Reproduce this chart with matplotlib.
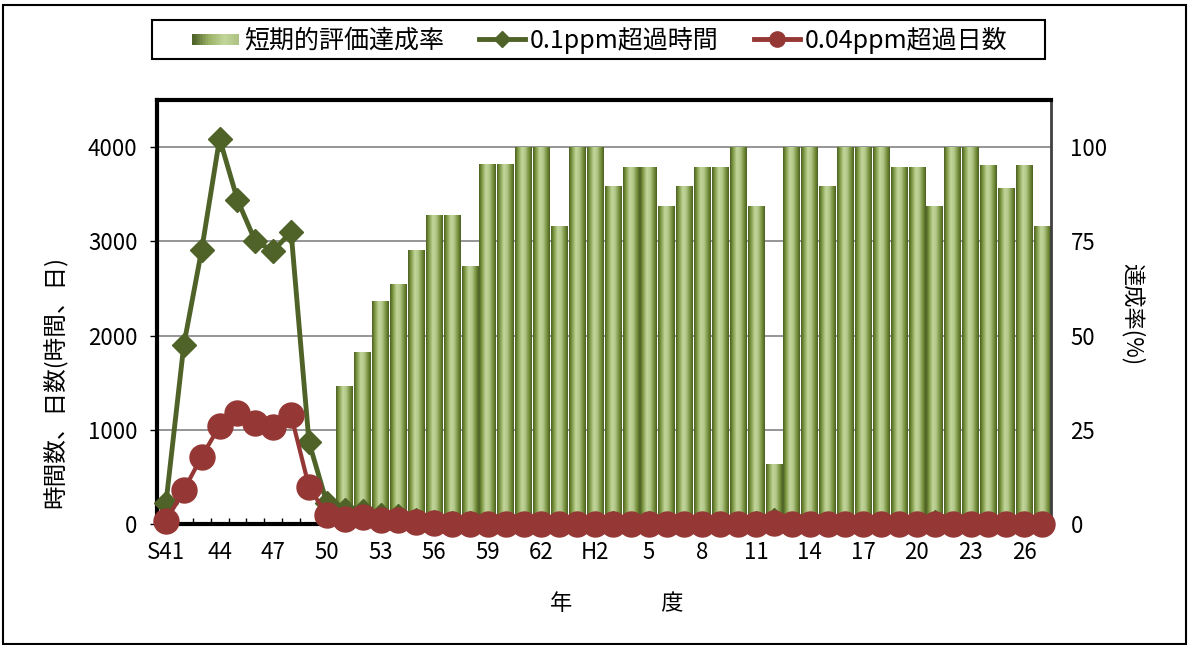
import numpy as np
import matplotlib
matplotlib.use("Agg")
import matplotlib.pyplot as plt
from matplotlib.colors import LinearSegmentedColormap
from matplotlib.patches import Rectangle
from matplotlib.lines import Line2D
from matplotlib.legend_handler import HandlerBase

plt.rcParams['font.family'] = ['Noto Sans CJK JP', 'DejaVu Sans']

# ---------------- data ----------------
years = (['S%d' % y for y in range(41, 64)] + ['H%d' % y for y in range(1, 28)])  # FY S41..H27
tick_labels = ['S41', '44', '47', '50', '53', '56', '59', '62', 'H2', '5', '8',
               '11', '14', '17', '20', '23', '26']

# 0.1ppm exceedance hours (left axis)
hours_01 = [220, 1900, 2910, 4090, 3440, 3000, 2900, 3100, 870, 220,
            150, 140, 100, 80, 40, 20, 10, 10, 0, 0,
            0, 0, 0, 0, 0, 15, 0, 10, 0, 0,
            0, 0, 0, 15, 40, 0, 0, 0, 0, 0,
            0, 0, 0, 20, 0, 0, 5, 0, 0, 0]
# 0.04ppm exceedance days (left axis)
days_004 = [30, 360, 715, 1040, 1180, 1075, 1025, 1155, 395, 95,
            50, 70, 40, 45, 20, 10, 5, 5, 5, 0,
            0, 0, 0, 0, 0, 0, 0, 0, 0, 0,
            0, 0, 0, 0, 10, 0, 0, 0, 0, 0,
            0, 0, 0, 0, 0, 0, 0, 0, 0, 0]
# short-term evaluation achievement rate (%) (right axis), from S51
rate_years = years[10:]
rate = [36.4, 45.5, 59.1, 63.6, 72.7, 81.8, 81.8, 68.2, 95.5, 95.5,
        100, 100, 78.9, 100, 100, 89.5, 94.7, 94.7, 84.2, 89.5,
        94.7, 94.7, 100, 84.2, 15.8, 100, 100, 89.5, 100, 100,
        100, 94.7, 94.7, 84.2, 100, 100, 95.0, 88.9, 95.0, 78.9]

label_rate = '短期的評価達成率'
label_h = '0.1ppm超過時間'
label_d = '0.04ppm超過日数'

# ---------------- style ----------------
GREEN = '#4f6228'
RED = '#953735'
cyl = LinearSegmentedColormap.from_list(
    'cyl', [(0, '#4a5d24'), (0.15, '#77933c'), (0.4, '#c3d69b'),
            (0.6, '#b3c88a'), (0.85, '#6f8a35'), (1, '#4a5d24')])
leg_cmap = LinearSegmentedColormap.from_list(
    'leg', [(0, '#4f6228'), (0.35, '#9bb165'), (0.7, '#c3d69b'), (1, '#aec283')])

W, H = 1190, 645
fig = plt.figure(figsize=(W / 100, H / 100), dpi=100)
L, R, T, B = 157, 1051, 100, 524
ax = fig.add_axes([L / W, 1 - B / H, (R - L) / W, (B - T) / H])
ax2 = ax.twinx()
ax.set_zorder(ax2.get_zorder() + 1)
ax.patch.set_visible(False)

x_all = np.arange(len(years))
x_rate = np.array([years.index(y) for y in rate_years])

# bars with cylinder gradient on right axis
bars = ax2.bar(x_rate, rate, width=0.93, color='#a8bd7a', edgecolor='none', zorder=2)
grad = np.linspace(0, 1, 128).reshape(1, -1)
for b in bars:
    ax2.imshow(grad, cmap=cyl, aspect='auto', interpolation='bilinear', zorder=2.1,
               extent=[b.get_x(), b.get_x() + b.get_width(), 0, b.get_height()])

ax2.set_ylim(0, 112.5)
ax2.set_yticks([0, 25, 50, 75, 100])
ax2.tick_params(axis='y', length=0, pad=14, labelsize=16)
ax2.grid(axis='y', color='#8c8c8c', lw=1.3, zorder=0)
ax2.set_axisbelow(True)
for s in ax2.spines.values():
    s.set_visible(False)

# lines on left axis
ax.plot(x_all, hours_01, color=GREEN, lw=3.5, marker='D', ms=12, zorder=3, clip_on=False)
ax.plot(x_all, days_004, color=RED, lw=3, marker='o', ms=18, zorder=4, clip_on=False)

ax.set_xlim(-0.5, len(years) - 0.5)
ax2.set_xlim(-0.5, len(years) - 0.5)
ax.set_ylim(0, 4500)
ax.set_yticks([0, 1000, 2000, 3000, 4000])
ax.tick_params(axis='y', direction='out', length=5, width=1, pad=9, labelsize=16)

ax.set_xticks([years.index(t) if t in years else x_all[i * 3]
               for i, t in enumerate(tick_labels)])
ax.set_xticks(np.arange(0.5, len(years) - 1, 1), minor=True)
ax.set_xticklabels(tick_labels)
ax.tick_params(axis='x', which='major', length=0, pad=12, labelsize=16)
ax.tick_params(axis='x', which='minor', direction='in', length=4.5, width=1, color='black')

for side in ['left', 'bottom', 'top']:
    ax.spines[side].set_linewidth(3)
    ax.spines[side].set_color('black')
ax.spines['right'].set_linewidth(2)
ax.spines['right'].set_color('#404040')

# axis titles
fig.text(55 / W, 1 - 382 / H, '時間数、日数(時間、日)', rotation=90, ha='center', va='center', fontsize=17)
fig.text(1133 / W, 1 - 314 / H, '達成率(%)', rotation=-90, ha='center', va='center', fontsize=16)
fig.text(617 / W, 1 - 603 / H, '年\u3000\u3000\u3000\u3000度', ha='center', va='center', fontsize=16)


# legend
class GradHandler(HandlerBase):
    def create_artists(self, legend, orig_handle, xdescent, ydescent, width, height, fontsize, trans):
        n = 30
        arts = []
        for i in range(n):
            r = Rectangle((-xdescent + i * width / n, -ydescent + height * 0.15),
                          width / n * 1.05, height * 0.65,
                          facecolor=leg_cmap(i / (n - 1)), edgecolor='none', transform=trans)
            arts.append(r)
        return arts


class GradProxy:
    pass


h_bar = GradProxy()
h_g = Line2D([], [], color=GREEN, lw=3.5, marker='D', ms=8)
h_r = Line2D([], [], color=RED, lw=3.5, marker='o', ms=11)
fig.legend([h_bar, h_g, h_r], [label_rate, label_h, label_d],
           handler_map={GradProxy: GradHandler()},
           loc='center', bbox_to_anchor=(600 / W, 1 - 40 / H), ncol=3, frameon=False,
           fontsize=18, handlelength=1.85, handletextpad=0.2, columnspacing=1.4)
fig.patches.append(Rectangle((152 / W, 1 - 59 / H), (1045 - 152) / W, 39 / H,
                             transform=fig.transFigure, fill=False, edgecolor='black', lw=1.5))
fig.patches.append(Rectangle((3 / W, 1 - 644 / H), (1186 - 3) / W, 639 / H,
                             transform=fig.transFigure, fill=False, edgecolor='black', lw=1.5))

fig.savefig('out.png', dpi=100)
